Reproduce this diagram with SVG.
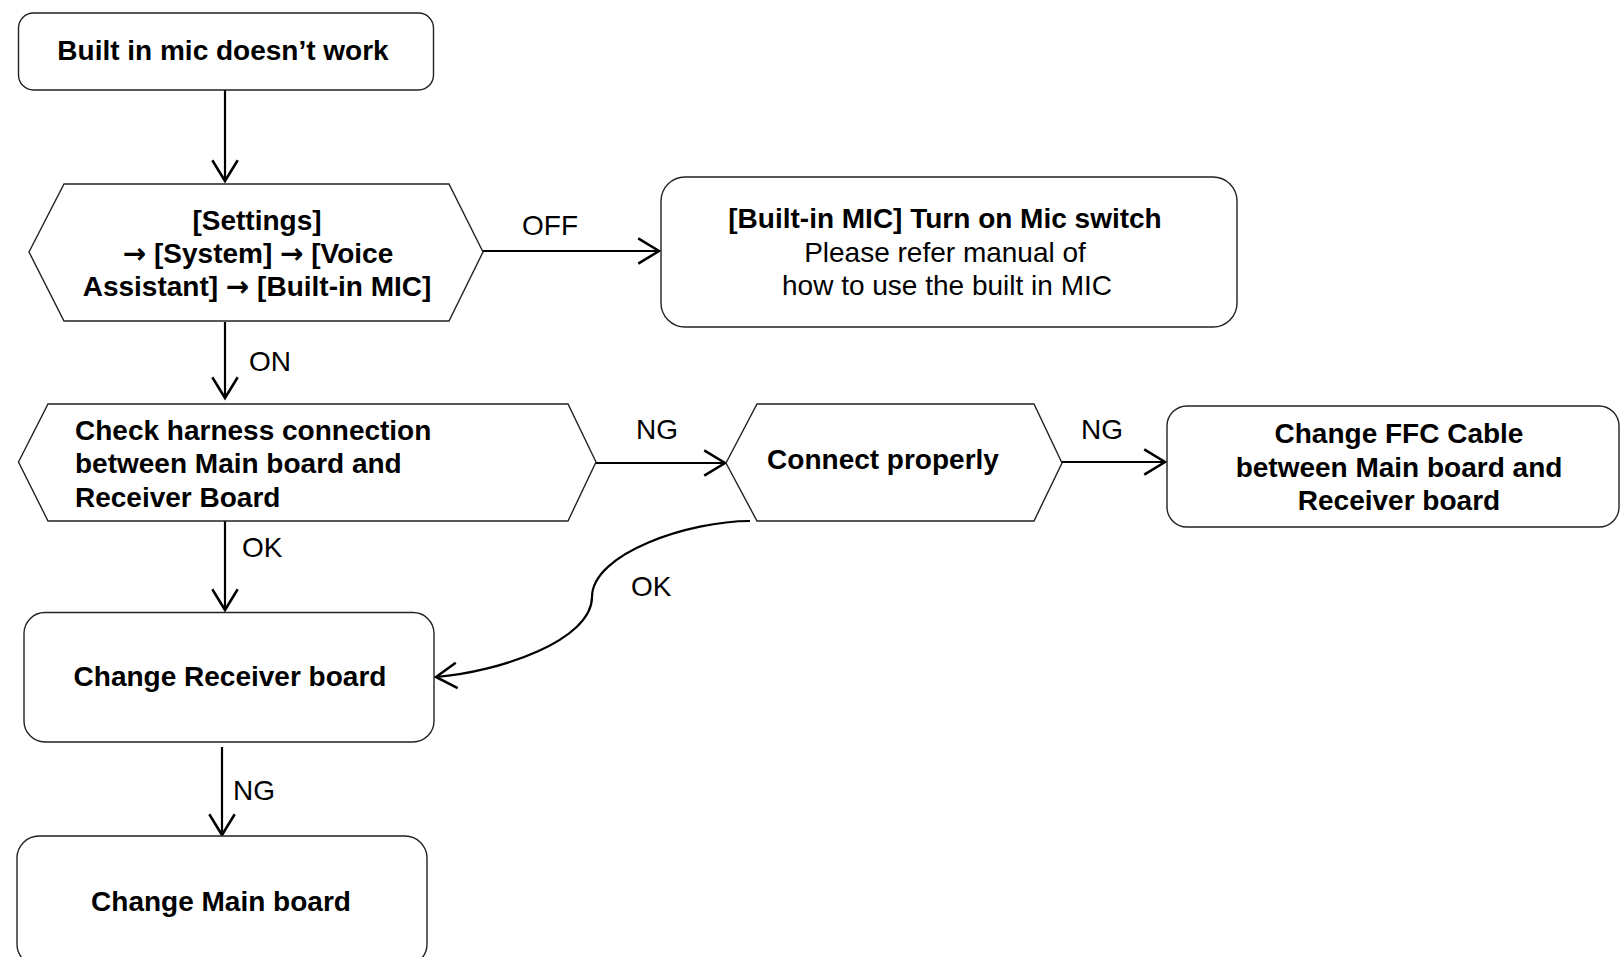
<svg xmlns="http://www.w3.org/2000/svg" width="1620" height="957" viewBox="0 0 1620 957">
<style>
.node{fill:#fff;stroke:#222;stroke-width:1.4}
.b{font-family:"Liberation Sans",Arial,sans-serif;font-size:28px;font-weight:bold;fill:#000}
.r{font-family:"Liberation Sans",Arial,sans-serif;font-size:28px;fill:#000}
.c{text-anchor:middle}
.ar{font-family:"DejaVu Sans",sans-serif;font-weight:bold;font-size:28px}
.edge{fill:none;stroke:#000;stroke-width:2.2}
</style>
<defs>
<marker id="arr" markerUnits="userSpaceOnUse" markerWidth="30" markerHeight="30" viewBox="-20 -13 22 26" refX="0" refY="0" orient="auto">
<path d="M-18,-11 L0,0 L-18,11" fill="none" stroke="#000" stroke-width="2.2"/>
</marker>
</defs>
<rect width="1620" height="957" fill="#fff"/>
<g id="connectors">
<line class="edge" x1="225" y1="90" x2="225" y2="181" marker-end="url(#arr)"/>
<line class="edge" x1="483" y1="251" x2="659" y2="251" marker-end="url(#arr)"/>
<line class="edge" x1="225" y1="322" x2="225" y2="398" marker-end="url(#arr)"/>
<line class="edge" x1="596" y1="463" x2="725" y2="463" marker-end="url(#arr)"/>
<line class="edge" x1="1062" y1="462" x2="1165" y2="462" marker-end="url(#arr)"/>
<line class="edge" x1="225" y1="521" x2="225" y2="610" marker-end="url(#arr)"/>
<line class="edge" x1="222" y1="747" x2="222" y2="835" marker-end="url(#arr)"/>
<path class="edge" d="M750,521 C690,521 592,553 592,597 C592,640 500,672 436,677" marker-end="url(#arr)"/>
<text class="r" x="522" y="235">OFF</text>
<text class="r" x="249" y="371">ON</text>
<text class="r" x="636" y="439">NG</text>
<text class="r" x="1081" y="439">NG</text>
<text class="r" x="242" y="557">OK</text>
<text class="r" x="631" y="596">OK</text>
<text class="r" x="233" y="800">NG</text>
</g>
<g id="start">
<rect class="node" x="18.5" y="13" width="415" height="77" rx="15"/>
<text class="b c" x="223" y="60">Built in mic doesn’t work</text>
</g>
<g id="settings">
<polygon class="node" points="29,252 64,184 449,184 483,252 449,321 64,321"/>
<text class="b c" x="257" y="230">[Settings]</text>
<text class="b c" x="258" y="263"><tspan class="ar">→</tspan> [System] <tspan class="ar">→</tspan> [Voice</text>
<text class="b c" x="257" y="296">Assistant] <tspan class="ar">→</tspan> [Built-in MIC]</text>
</g>
<g id="micswitch">
<rect class="node" x="661" y="177" width="576" height="150" rx="24"/>
<text class="b c" x="945" y="228">[Built-in MIC] Turn on Mic switch</text>
<text class="r c" x="945" y="262">Please refer manual of</text>
<text class="r c" x="947" y="295">how to use the built in MIC</text>
</g>
<g id="harness">
<polygon class="node" points="18.5,462 48,404 568,404 596,462 568,521 48,521"/>
<text class="b" x="75" y="440">Check harness connection</text>
<text class="b" x="75" y="473">between Main board and</text>
<text class="b" x="75" y="507">Receiver Board</text>
</g>
<g id="connect">
<polygon class="node" points="726,463 757,404 1034,404 1062,463 1034,521 757,521"/>
<text class="b c" x="883" y="469">Connect properly</text>
</g>
<g id="ffc">
<rect class="node" x="1167" y="406" width="452" height="121" rx="20"/>
<text class="b c" x="1399" y="443">Change FFC Cable</text>
<text class="b c" x="1399" y="477">between Main board and</text>
<text class="b c" x="1399" y="510">Receiver board</text>
</g>
<g id="receiver">
<rect class="node" x="24" y="612.5" width="410" height="129.5" rx="21"/>
<text class="b c" x="230" y="686">Change Receiver board</text>
</g>
<g id="mainboard">
<rect class="node" x="17" y="836" width="410" height="130" rx="22"/>
<text class="b c" x="221" y="911">Change Main board</text>
</g>
</svg>
